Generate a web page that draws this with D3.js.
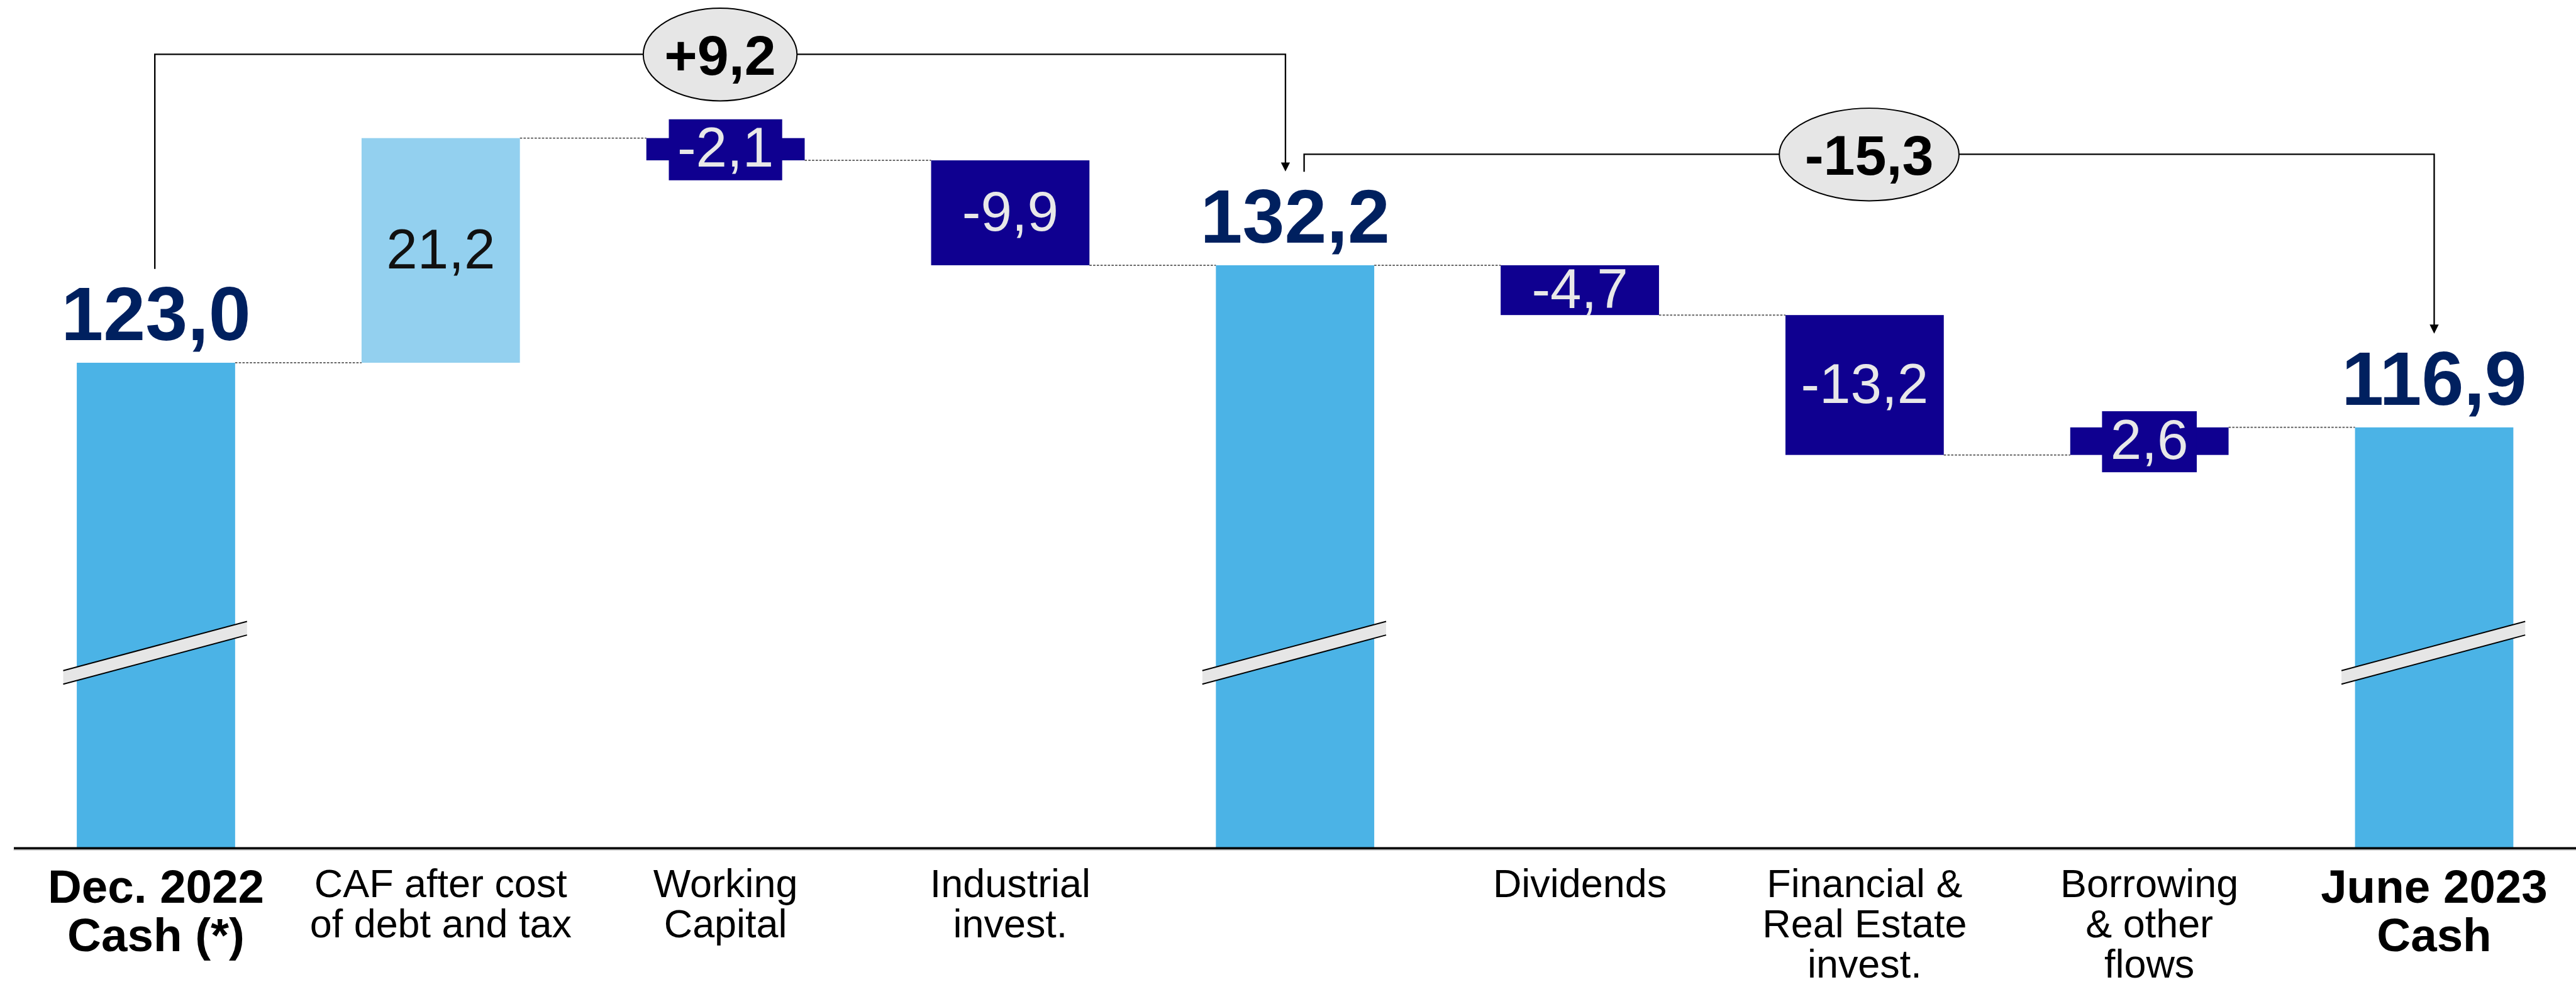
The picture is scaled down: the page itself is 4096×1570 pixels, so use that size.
<!DOCTYPE html>
<html>
<head>
<meta charset="utf-8">
<script src="https://cdn.jsdelivr.net/npm/d3@7"></script>
<style>
  html, body { margin: 0; padding: 0; background: #ffffff; overflow: hidden; }
  svg { display: block; }
  text { font-family: "Liberation Sans", Arial, Helvetica, sans-serif; }
</style>
</head>
<body>
<svg id="chart" width="4096" height="1570" viewBox="0 0 4558 1747"></svg>
<script>
// ---------------- data ----------------
const categories = [
  "Dec. 2022\nCash (*)",
  "CAF after cost\nof debt and tax",
  "Working\nCapital",
  "Industrial\ninvest.",
  "",
  "Dividends",
  "Financial &\nReal Estate\ninvest.",
  "Borrowing\n& other\nflows",
  "June 2023\nCash"
];
const kinds  = ["total", "caf", "flow", "flow", "total", "flow", "flow", "flow", "total"];
const values = [123.0, 21.2, -2.1, -9.9, 132.2, -4.7, -13.2, 2.6, 116.9];
// bracket annotations: from total index -> to total index
const bracketFrom = [0, 4];
const bracketTo   = [4, 8];

// ---------------- styles / layout ----------------
const colors = { total: "#4BB3E6", caf: "#93D0EF", flow: "#0F0090" };
const labelInk = { caf: "#111111", flow: "#E8E8E8" };
const totalInk = "#00205F";
const W = 4558, H = 1747;
const axisY = 1501;

const svg = d3.select("#chart");

const loc = d3.formatLocale({decimal: ",", thousands: ".", grouping: [3], currency: ["", "€"], minus: "-"});
const f1 = loc.format(".1f");
const fSigned = loc.format("+.1f");

const x = d3.scaleBand().domain(d3.range(categories.length))
  .range([24, 4559]).paddingInner(0.444).paddingOuter(0.222);
const y = d3.scaleLinear().domain([110, 145]).range([885.9, 229.4]);

// running levels
let level = 0;
const steps = values.map((v, i) => {
  let start, end;
  if (kinds[i] === "total") { start = null; end = v; }
  else { start = level; end = level + v; }
  level = end;
  return { i, v, kind: kinds[i], start, end };
});

// ---------------- connectors ----------------
const gConn = svg.append("g");
for (let i = 0; i < steps.length - 1; i++) {
  const yy = y(steps[i].end);
  gConn.append("line")
    .attr("x1", x(i) + x.bandwidth()).attr("x2", x(i + 1))
    .attr("y1", yy).attr("y2", yy)
    .attr("stroke", "#666").attr("stroke-width", 2.2)
    .attr("stroke-dasharray", "4,2.5");
}

// ---------------- bars ----------------
const gBars = svg.append("g");
steps.forEach(s => {
  let top, bot;
  if (s.kind === "total") { top = y(s.end); bot = axisY; }
  else { top = y(Math.max(s.start, s.end)); bot = y(Math.min(s.start, s.end)); }
  s.top = top; s.bot = bot;
  gBars.append("rect")
    .attr("x", x(s.i)).attr("width", x.bandwidth())
    .attr("y", top).attr("height", bot - top)
    .attr("fill", colors[s.kind]);
});

// ---------------- axis ----------------
const axis = d3.axisBottom(x).tickSize(0).tickFormat("");
const gAxis = svg.append("g").attr("transform", `translate(0,${axisY})`).call(axis);
gAxis.select(".domain").attr("stroke", "#000").attr("stroke-width", 4);
svg.append("line").attr("x1", 24).attr("x2", W).attr("y1", axisY + 3.5).attr("y2", axisY + 3.5)
  .attr("stroke", "#bbb").attr("stroke-width", 1.5);

// ---------------- break marks on totals ----------------
const gBreak = svg.append("g");
steps.filter(s => s.kind === "total").forEach(s => {
  const x0 = x(s.i) - 24, x1 = x(s.i) + x.bandwidth() + 21;
  const yl = 1187, yr = 1100, t = 24;
  gBreak.append("path")
    .attr("d", `M${x0},${yl}L${x1},${yr}L${x1},${yr + t}L${x0},${yl + t}Z`)
    .attr("fill", "#E6E6E6");
  gBreak.append("line").attr("x1", x0).attr("y1", yl).attr("x2", x1).attr("y2", yr)
    .attr("stroke", "#000").attr("stroke-width", 2.2);
  gBreak.append("line").attr("x1", x0).attr("y1", yl + t).attr("x2", x1).attr("y2", yr + t)
    .attr("stroke", "#000").attr("stroke-width", 2.2);
});

// ---------------- value labels ----------------
const gLab = svg.append("g");
steps.forEach(s => {
  const cx = x(s.i) + x.bandwidth() / 2;
  if (s.kind === "total") {
    gLab.append("text")
      .attr("x", cx).attr("y", s.top - 40)
      .attr("text-anchor", "middle")
      .attr("font-size", 134).attr("font-weight", "bold")
      .attr("fill", totalInk)
      .text(f1(s.v));
    return;
  }
  const mid = (s.top + s.bot) / 2;
  const h = s.bot - s.top;
  if (h < 60) {
    const base = mid + 31;
    const g = gLab.append("g");
    const bg = g.append("rect").attr("fill", colors[s.kind]);
    const t = g.append("text")
      .attr("x", cx).attr("y", base)
      .attr("text-anchor", "middle")
      .attr("font-size", 99)
      .attr("fill", labelInk[s.kind])
      .text(f1(s.v));
    const tw = t.node().getComputedTextLength();
    bg.attr("x", cx - tw / 2 - 15).attr("width", tw + 30)
      .attr("y", base - 84).attr("height", 108);
  } else {
    gLab.append("text")
      .attr("x", cx).attr("y", mid + 32)
      .attr("text-anchor", "middle")
      .attr("font-size", 99)
      .attr("fill", labelInk[s.kind])
      .text(f1(s.v));
  }
});

// ---------------- category labels ----------------
const gCat = svg.append("g");
categories.forEach((c, i) => {
  if (!c) return;
  const bold = kinds[i] === "total";
  const fsz = bold ? 83 : 70;
  const lh = bold ? 86 : 71;
  const t = gCat.append("text")
    .attr("text-anchor", "middle")
    .attr("font-size", fsz)
    .attr("font-weight", bold ? "bold" : "normal")
    .attr("fill", "#000");
  c.split("\n").forEach((line, k) => {
    t.append("tspan")
      .attr("x", x(i) + x.bandwidth() / 2)
      .attr("y", (bold ? 1598 : 1588) + k * lh)
      .text(line);
  });
});

// ---------------- brackets ----------------
const gBr = svg.append("g");
const levels = [96, 273];
bracketFrom.forEach((a, k) => {
  const b = bracketTo[k];
  const diff = values[b] - values[a];
  const ca = x(a) + x.bandwidth() / 2, cb = x(b) + x.bandwidth() / 2;
  const xa = k === 0 ? ca - 2 : ca + 16;
  const xb = k === 0 ? cb - 17 : cb;
  const ly = levels[k];
  const ya = k === 0 ? steps[a].top - 166 : 304;
  const tip = steps[b].top - 166;
  gBr.append("path")
    .attr("d", `M${xa},${ya}V${ly}H${xb}V${tip - 15}`)
    .attr("fill", "none").attr("stroke", "#000").attr("stroke-width", 2.6);
  gBr.append("path")
    .attr("d", `M${xb - 8},${tip - 16}L${xb + 8},${tip - 16}L${xb},${tip}Z`)
    .attr("fill", "#000");
  const mx = (xa + xb) / 2;
  gBr.append("ellipse")
    .attr("cx", mx).attr("cy", ly + 0.5)
    .attr("rx", k === 0 ? 136 : 159).attr("ry", 82)
    .attr("fill", "#E6E6E6").attr("stroke", "#000").attr("stroke-width", 2.2);
  gBr.append("text")
    .attr("x", mx).attr("y", ly + 36)
    .attr("text-anchor", "middle")
    .attr("font-size", 100).attr("font-weight", "bold")
    .attr("fill", "#000")
    .text(fSigned(diff));
});
</script>
</body>
</html>
